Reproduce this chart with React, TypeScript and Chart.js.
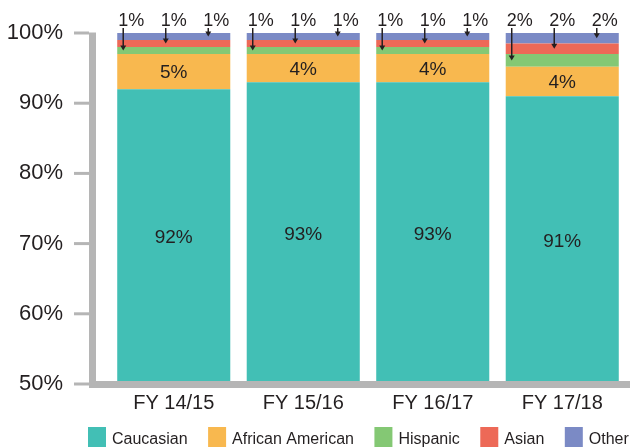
import { useEffect, useRef } from 'react';
import { Chart, registerables } from 'chart.js';

Chart.register(...registerables);

// ---- data ----
const categories = ['FY 14/15', 'FY 15/16', 'FY 16/17', 'FY 17/18'];
const seriesNames = ['Caucasian', 'African American', 'Hispanic', 'Asian', 'Other'];
const caucasian = [92, 93, 93, 91];
const africanAmerican = [5, 4, 4, 4.2];
const hispanic = [1, 1, 1, 1.8];
const asian = [1, 1, 1, 1.5];
const other = [1, 1, 1, 1.5];
const seriesValues = [caucasian, africanAmerican, hispanic, asian, other];
const yMin = 50;
const yMax = 100;
const yStep = 10;

// ---- style ----
const colors = ['#42bfb5', '#f8b84f', '#84c874', '#ed6957', '#7b8ac5'];
const TEXT = '#231f20';
const AXIS = '#b5b5b5';
const FONT = '"Liberation Sans", Arial, Helvetica, sans-serif';

const pct = (v: number) => Math.round(v) + '%';

const annotate = {
  id: 'annotate',
  afterDraw(chart: any) {
    const ctx: CanvasRenderingContext2D = chart.ctx;
    const area = chart.chartArea;
    const y = chart.scales.y;
    const yTop = y.getPixelForValue(yMax);
    const yBot = y.getPixelForValue(yMin);
    ctx.save();

    // axis lines
    const axisLeft = area.left - 20;
    ctx.fillStyle = AXIS;
    ctx.fillRect(axisLeft, yTop - 0.5, 7, yBot - yTop + 4);
    ctx.fillRect(axisLeft, yBot - 3, chart.width - axisLeft, 7);
    // tick marks
    for (let v = yMin; v <= yMax; v += yStep) {
      const p = y.getPixelForValue(v);
      ctx.fillRect(axisLeft - 15, p - 1.5, 15, 3);
    }

    // inner labels (Caucasian, African American)
    ctx.fillStyle = TEXT;
    ctx.textAlign = 'center';
    ctx.textBaseline = 'alphabetic';
    const inSize = 19;
    ctx.font = `${inSize}px ${FONT}`;
    [0, 1].forEach((di) => {
      const meta = chart.getDatasetMeta(di);
      meta.data.forEach((el: any, j: number) => {
        const { x, y: top, base } = el.getProps(['x', 'y', 'base'], true);
        const bottom = Math.min(base, area.bottom);
        const c = (top + bottom) / 2;
        ctx.fillText(pct(seriesValues[di][j]), x, c + inSize * 0.716 / 2);
      });
    });

    // top labels with arrows (Hispanic, Asian, Other)
    const topSize = 18;
    ctx.font = `${topSize}px ${FONT}`;
    const baseline = yTop - 7;
    [2, 3, 4].forEach((di, k) => {
      const meta = chart.getDatasetMeta(di);
      meta.data.forEach((el: any, j: number) => {
        const { x, y: top, base, width } = el.getProps(['x', 'y', 'base', 'width'], true);
        const label = pct(seriesValues[di][j]);
        const w = ctx.measureText(label).width;
        let start: number;
        if (k === 0) start = x - width / 2 + 1;
        else if (k === 1) start = x - w / 2;
        else start = x + width / 2 - 1 - w;
        ctx.fillStyle = TEXT;
        ctx.textAlign = 'left';
        ctx.fillText(label, start, baseline);
        const ax = start + 5;
        const tip = (top + base) / 2;
        ctx.strokeStyle = TEXT;
        ctx.lineWidth = 1.5;
        ctx.beginPath();
        ctx.moveTo(ax, baseline + 2);
        ctx.lineTo(ax, tip - 4);
        ctx.stroke();
        ctx.beginPath();
        ctx.moveTo(ax - 3, tip - 5);
        ctx.lineTo(ax + 3, tip - 5);
        ctx.lineTo(ax, tip);
        ctx.closePath();
        ctx.fill();
      });
    });

    // legend
    const lgSize = 16;
    ctx.font = `${lgSize}px ${FONT}`;
    ctx.textAlign = 'left';
    let lx = axisLeft - 1;
    const boxTop = chart.height - 21;
    seriesNames.forEach((name, i) => {
      ctx.fillStyle = colors[i];
      ctx.fillRect(lx, boxTop, 18, 20);
      ctx.fillStyle = TEXT;
      const tx = lx + 24;
      ctx.fillText(name, tx, boxTop + 11 + lgSize * 0.716 / 2);
      lx = tx + ctx.measureText(name).width + 20.5;
    });
    ctx.restore();
  },
};

export default function App() {
  const ref = useRef<HTMLCanvasElement>(null);
  useEffect(() => {
    document.body.style.margin = '0';
    const chart = new Chart(ref.current as HTMLCanvasElement, {
      type: 'bar',
      data: {
        labels: categories,
        datasets: seriesValues.map((data, i) => ({
          label: seriesNames[i],
          data,
          backgroundColor: colors[i],
          borderWidth: 0,
          barPercentage: 0.873,
          categoryPercentage: 1,
        })),
      },
      options: {
        animation: false,
        responsive: false,
        devicePixelRatio: 1,
        layout: { padding: { top: 33, right: 3, bottom: 0, left: 0 } },
        plugins: { legend: { display: false }, tooltip: { enabled: false } },
        scales: {
          x: {
            stacked: true,
            grid: { display: false, drawTicks: false },
            border: { display: false },
            ticks: { font: { size: 20, family: FONT }, color: TEXT, padding: 7 },
            afterFit: (s: any) => { s.height = 64; s.paddingLeft = 0; s.paddingRight = 0; },
          },
          y: {
            stacked: true,
            min: yMin,
            max: yMax,
            grid: { display: false, drawTicks: false },
            border: { display: false },
            ticks: {
              stepSize: yStep,
              callback: (v: any) => v + '%',
              font: { size: 22, family: FONT },
              color: TEXT,
              padding: 46,
            },
            afterFit: (s: any) => { s.width = 109; s.paddingTop = 0; s.paddingBottom = 0; },
          },
        },
      } as any,
      plugins: [annotate],
    });
    return () => chart.destroy();
  }, []);
  return <canvas ref={ref} width={630} height={448} style={{ display: 'block' }} />;
}
